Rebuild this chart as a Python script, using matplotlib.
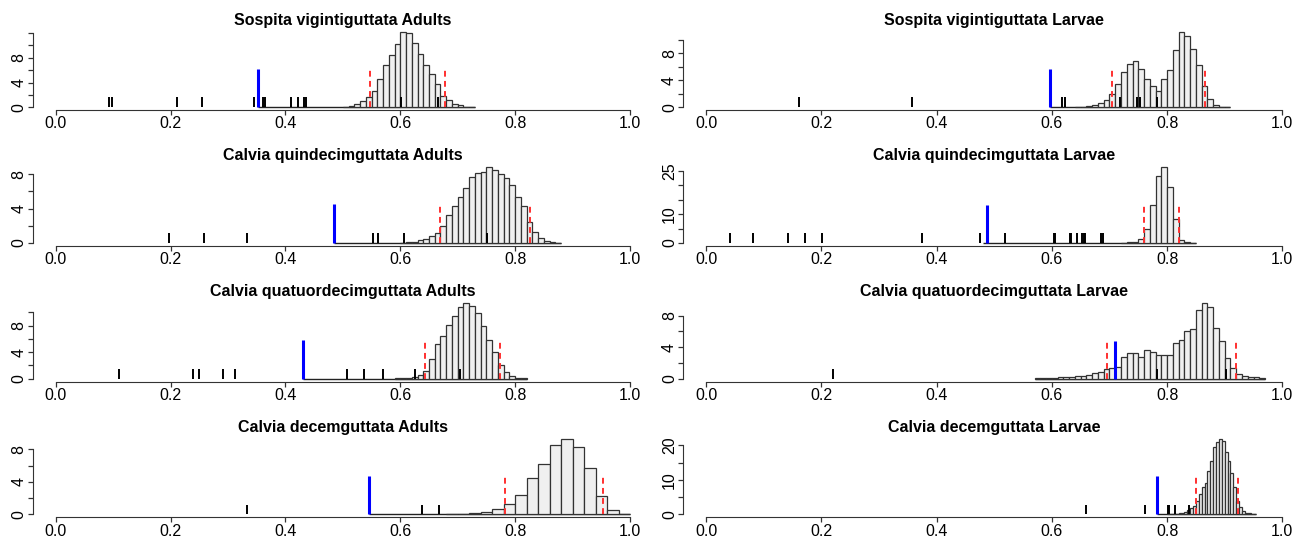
import matplotlib
matplotlib.use("Agg")
import matplotlib.pyplot as plt
import numpy as np

plt.rcParams['font.family'] = ['Liberation Sans', 'DejaVu Sans']

titles = [
    "Sospita vigintiguttata Adults", "Sospita vigintiguttata Larvae",
    "Calvia quindecimguttata Adults", "Calvia quindecimguttata Larvae",
    "Calvia quatuordecimguttata Adults", "Calvia quatuordecimguttata Larvae",
    "Calvia decemguttata Adults", "Calvia decemguttata Larvae",
]

# histogram of the null distribution: first bin edge, bin width, densities
hist_start = [0.50, 0.64, 0.60, 0.72, 0.59, 0.57, 0.68, 0.800]
hist_width = [0.01, 0.01, 0.01, 0.01, 0.01, 0.01, 0.02, 0.005]
dens_sv_ad = [0.1, 0.2, 0.5, 1.0, 1.7, 2.7, 4.5, 6.9, 8.5, 10.2, 12.2, 12.0,
              10.3, 8.6, 6.8, 5.4, 3.7, 1.9, 1.2, 0.5, 0.3, 0.1, 0.05]
dens_sv_la = [0.05, 0.1, 0.2, 0.4, 0.6, 1.1, 1.9, 3.5, 5.2, 6.4, 6.9, 5.6, 4.2,
              3.1, 2.4, 4.2, 5.5, 8.5, 11.2, 10.5, 8.7, 6.3, 3.1, 1.2, 0.4,
              0.1, 0.05]
dens_cq_ad = [0.05, 0.1, 0.15, 0.3, 0.5, 0.8, 1.2, 2.0, 3.3, 4.3, 5.3, 6.4,
              7.7, 8.2, 8.3, 8.8, 8.5, 8.0, 7.6, 6.8, 5.4, 4.3, 2.4, 1.3, 0.6,
              0.2, 0.1, 0.05]
dens_cq_la = [0.1, 0.2, 0.4, 1.4, 5.0, 13.0, 23.3, 26.2, 19.5, 8.2, 1.0, 0.3,
              0.1]
dens_c14_ad = [0.05, 0.1, 0.15, 0.3, 0.6, 1.2, 3.0, 5.3, 6.5, 8.1, 9.5, 10.8,
               11.4, 11.0, 9.9, 8.0, 5.9, 4.1, 2.1, 1.0, 0.4, 0.15, 0.05]
dens_c14_la = [0.05, 0.05, 0.08, 0.1, 0.15, 0.2, 0.25, 0.3, 0.35, 0.5, 0.7,
               0.9, 1.2, 1.35, 1.5, 2.7, 3.2, 3.3, 2.7, 3.6, 3.4, 3.0, 3.0,
               3.0, 4.5, 4.9, 6.1, 6.3, 8.7, 9.6, 9.1, 6.5, 4.8, 2.6, 1.3, 0.6,
               0.4, 0.25, 0.15, 0.1]
dens_c10_ad = [0.03, 0.08, 0.15, 0.35, 0.7, 1.3, 2.4, 4.5, 6.2, 8.6, 9.3, 8.3,
               5.7, 2.3, 0.6, 0.1]
dens_c10_la = [0.1, 0.1, 0.15, 0.2, 0.3, 0.5, 0.8, 1.2, 1.8, 2.3, 3.8, 6.0,
               8.0, 9.2, 12.5, 15.5, 19.5, 21.0, 21.9, 21.3, 18.0, 15.5, 12.0,
               8.0, 4.0, 2.0, 1.0, 0.5, 0.3, 0.1, 0.05]
densities = [dens_sv_ad, dens_sv_la, dens_cq_ad, dens_cq_la,
             dens_c14_ad, dens_c14_la, dens_c10_ad, dens_c10_la]

# where the flat zero part of each histogram begins
base_start = [0.352, 0.596, 0.485, 0.481, 0.431, 0.57, 0.545, 0.782]

# observed value (blue) and 95% interval (red dashed)
observed = [0.352, 0.596, 0.485, 0.488, 0.431, 0.709, 0.545, 0.782]
ci_low = [0.547, 0.704, 0.670, 0.760, 0.643, 0.696, 0.782, 0.850]
ci_high = [0.677, 0.866, 0.825, 0.820, 0.774, 0.919, 0.953, 0.923]
line_top = [6.1, 5.7, 4.5, 13.2, 5.8, 4.85, 4.7, 11.0]

# single species / site values drawn as short ticks
rug_vals = [
    [0.092, 0.098, 0.212, 0.254, 0.346, 0.361, 0.364, 0.410, 0.422, 0.432,
     0.436, 0.601, 0.666],
    [0.161, 0.358, 0.618, 0.623, 0.719, 0.748, 0.753, 0.782],
    [0.198, 0.259, 0.333, 0.553, 0.562, 0.607, 0.751],
    [0.041, 0.082, 0.142, 0.172, 0.202, 0.374, 0.475, 0.518, 0.603, 0.605,
     0.631, 0.633, 0.643, 0.653, 0.655, 0.658, 0.686, 0.688],
    [0.111, 0.239, 0.250, 0.292, 0.313, 0.508, 0.537, 0.570, 0.626, 0.704],
    [0.220, 0.782, 0.903],
    [0.333, 0.637, 0.667],
    [0.659, 0.761, 0.801, 0.804, 0.814, 0.838],
]

# y axis ticks and the labels R kept
y_ticks = [[0, 2, 4, 6, 8, 10, 12], [0, 2, 4, 6, 8, 10], [0, 2, 4, 6, 8],
           [0, 5, 10, 15, 20, 25], [0, 2, 4, 6, 8, 10], [0, 2, 4, 6, 8],
           [0, 2, 4, 6, 8], [0, 5, 10, 15, 20]]
y_labels = [[0, 4, 8], [0, 4, 8], [0, 4, 8], [0, 10, 25], [0, 4, 8],
            [0, 4, 8], [0, 4, 8], [0, 10, 20]]
x_ticks = [0.0, 0.2, 0.4, 0.6, 0.8, 1.0]

W, H = 1293, 536
fig = plt.figure(figsize=(W / 100, H / 100), dpi=100)

col_left = [32.7, 683.0]
col_width = [620.3, 622.4]
row_bottom = [110.3, 246.0, 381.7, 517.4]
ax_h = 81.6

for i in range(8):
    r, c = i // 2, i % 2
    ax = fig.add_axes([col_left[c] / W, 1 - row_bottom[r] / H,
                       col_width[c] / W, ax_h / H])
    d = np.array(densities[i])
    edges = hist_start[i] + hist_width[i] * np.arange(len(d) + 1)
    ymax = d.max()

    ax.hlines(0, base_start[i], edges[-1], color='#222222', lw=1.0, zorder=1)
    ax.bar(edges[:-1], d, width=hist_width[i], align='edge',
           color='#f0f0f0', edgecolor='#333333', linewidth=0.9, zorder=2)
    ax.vlines(rug_vals[i], 0, 0.13 * ymax, color='black', lw=1.4, zorder=3)
    ax.vlines(observed[i], 0, line_top[i], color='#0000ff', lw=2.2, zorder=4)
    ax.vlines([ci_low[i], ci_high[i]], 0, line_top[i], color='#ff3030',
              lw=1.4, linestyles=(0, (3, 2.2)), zorder=5)

    ax.set_xlim(-0.04, 1.04)
    ax.set_ylim(-0.04 * ymax, 1.04 * ymax)
    for s in ['top', 'right']:
        ax.spines[s].set_visible(False)
    ax.spines['left'].set_bounds(0, y_ticks[i][-1])
    ax.spines['bottom'].set_bounds(0, 1)
    ax.spines['left'].set_color('#333333')
    ax.spines['bottom'].set_color('#333333')
    ax.set_xticks(x_ticks)
    ax.set_xticklabels([f"{v:.1f}" for v in x_ticks], fontsize=11.5)
    ax.set_yticks(y_ticks[i])
    ax.set_yticklabels([str(v) if v in y_labels[i] else "" for v in y_ticks[i]],
                       fontsize=11.5, rotation=90, va='center')
    ax.tick_params(direction='out', length=3.6, width=0.9, color='#333333',
                   pad=0.8)
    ax.set_title(titles[i], fontsize=11.5, fontweight='bold', pad=3)
    ax.patch.set_alpha(0)

fig.savefig("out.png", dpi=100)
